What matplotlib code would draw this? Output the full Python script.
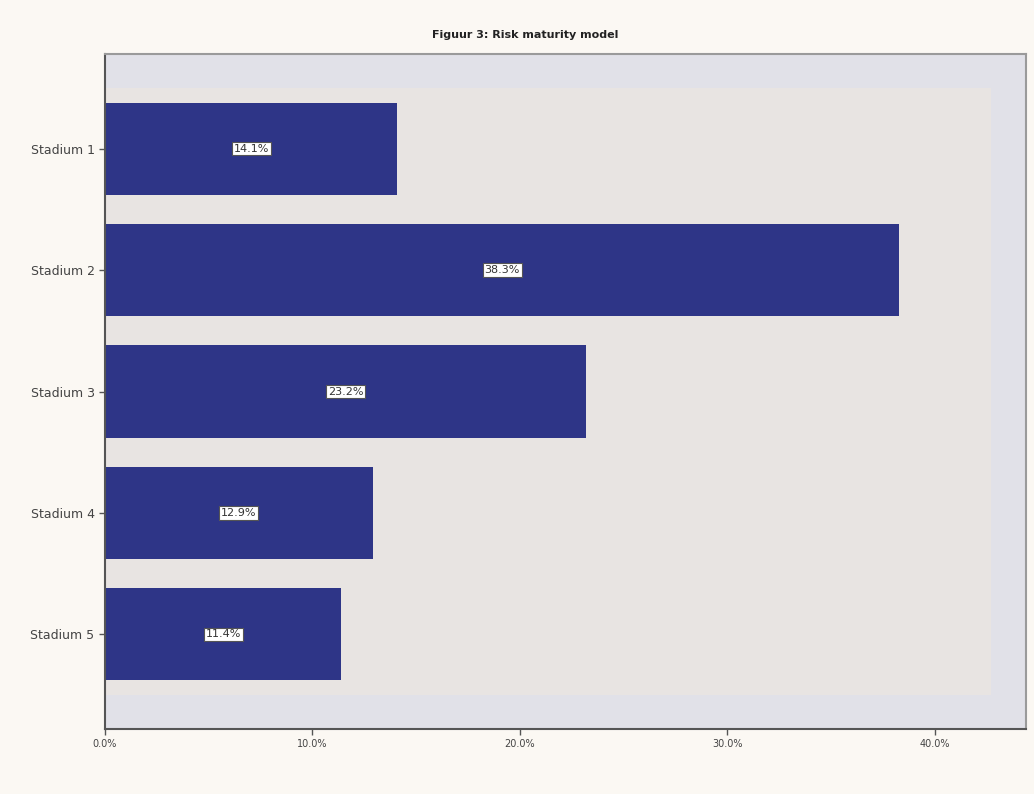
import matplotlib.pyplot as plt
from matplotlib.patches import Rectangle

categories = ['Stadium 1', 'Stadium 2', 'Stadium 3', 'Stadium 4', 'Stadium 5']
percentages = [14.1, 38.3, 23.2, 12.9, 11.4]
x_ticks = [0, 10, 20, 30, 40]

fig = plt.figure(figsize=(10.34, 7.94), dpi=100, facecolor='#fbf8f3')
ax = fig.add_axes([0.1015, 0.0819, 0.8907, 0.850])
ax.set_facecolor('#e1e1e8')

# inner data region is slightly warmer than the frame around it
ax.add_patch(Rectangle((0, -0.5), 42.7, 5.0, facecolor='#e8e4e2',
                       edgecolor='none', zorder=0))

pos = list(range(len(categories)))
ax.barh(pos, percentages, height=0.76, color='#2e3587', zorder=2)

for p, v in zip(pos, percentages):
    ax.text(v / 2, p, '{:.1f}%'.format(v), ha='center', va='center',
            fontsize=8, color='#333333', zorder=3,
            bbox=dict(boxstyle='square,pad=0.15', facecolor='white',
                      edgecolor='#555555', linewidth=0.8))

ax.set_xlim(0, 44.4)
ax.set_ylim(len(categories) - 1 + 0.78, -0.78)
ax.set_yticks(pos)
ax.set_yticklabels(categories, fontsize=9, color='#444444')
ax.set_xticks(x_ticks)
ax.set_xticklabels(['{:.1f}%'.format(t) for t in x_ticks], fontsize=7,
                   color='#444444')
ax.tick_params(axis='both', length=4, width=1, color='#555555')

for side in ['top', 'right']:
    ax.spines[side].set_color('#9a9a9a')
    ax.spines[side].set_linewidth(1.5)
for side in ['left', 'bottom']:
    ax.spines[side].set_color('#555555')
    ax.spines[side].set_linewidth(1.5)

fig.text(0.508, 0.956, 'Figuur 3: Risk maturity model', ha='center',
         va='center', fontsize=8, fontweight='bold', color='#222222')

fig.savefig('out.png', dpi=100, facecolor=fig.get_facecolor())
